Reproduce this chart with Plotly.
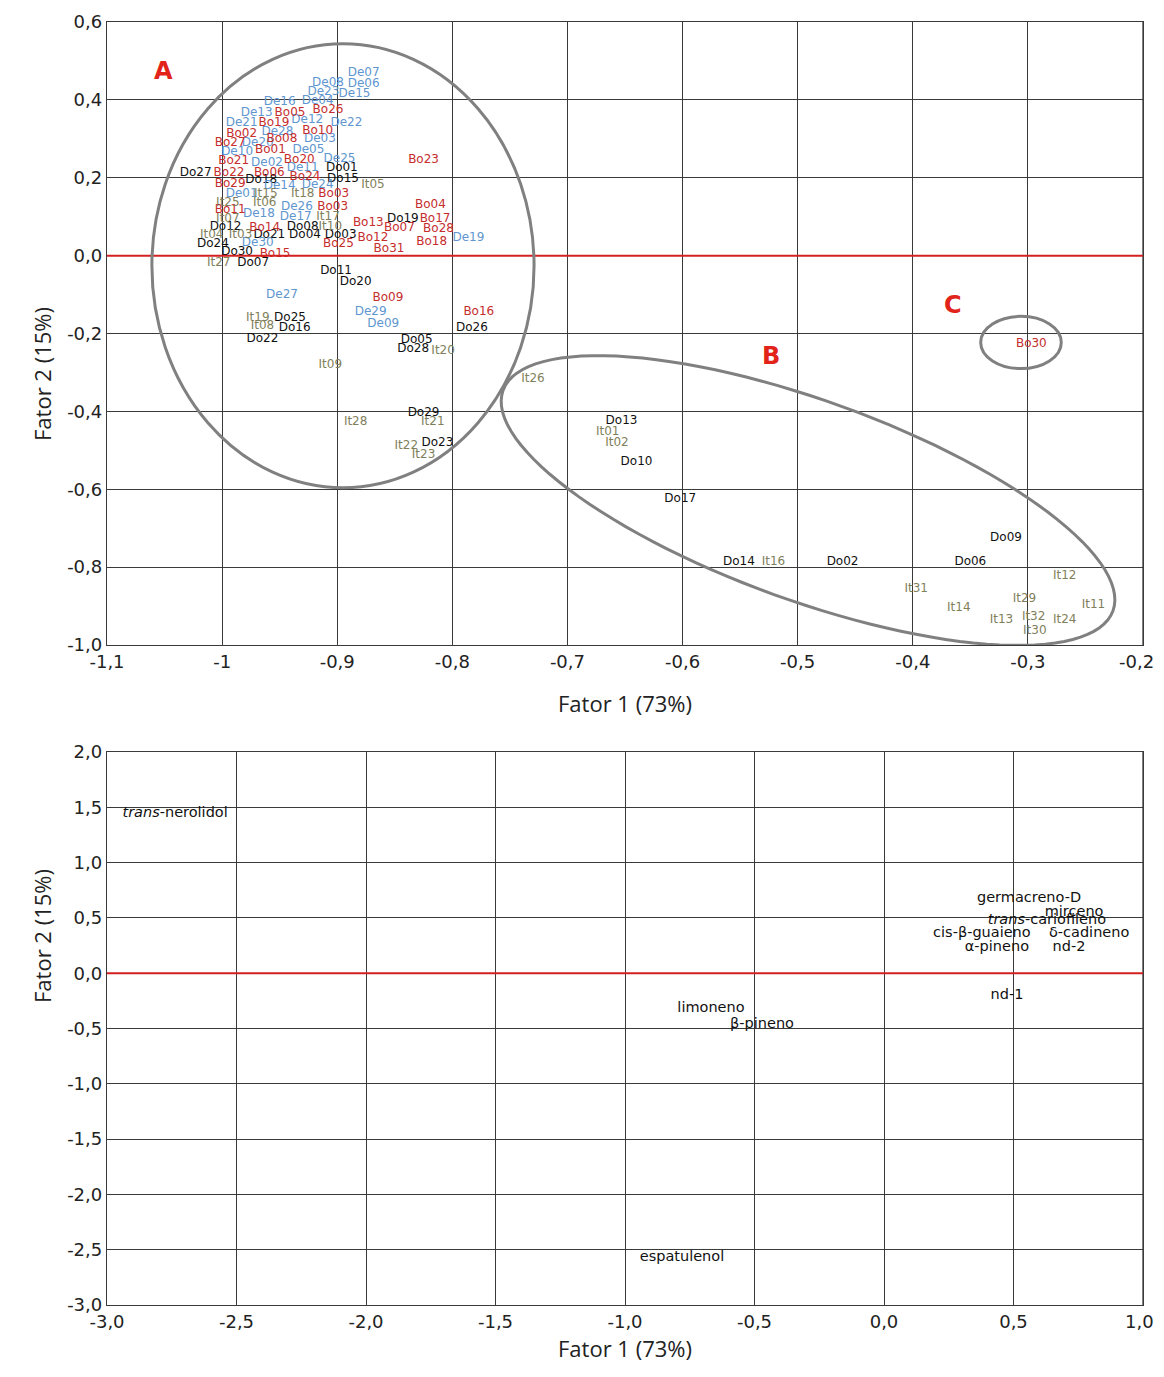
import numpy as np
import plotly.graph_objects as go

# ---------------- Data: top plot (sample scores) ----------------
do_names = ["Do01","Do02","Do03","Do04","Do05","Do06","Do07","Do08","Do09","Do10",
            "Do11","Do12","Do13","Do14","Do15","Do16","Do17","Do18","Do19","Do20",
            "Do21","Do22","Do23","Do24","Do25","Do26","Do27","Do28","Do29","Do30"]
do_x = [-0.896,-0.461,-0.897,-0.928,-0.831,-0.350,-0.973,-0.930,-0.319,-0.640,
        -0.901,-0.997,-0.653,-0.551,-0.895,-0.937,-0.602,-0.966,-0.843,-0.884,
        -0.959,-0.965,-0.813,-1.008,-0.941,-0.783,-1.023,-0.834,-0.825,-0.987]
do_y = [0.226,-0.788,0.054,0.054,-0.216,-0.788,-0.018,0.074,-0.724,-0.529,
        -0.039,0.074,-0.424,-0.788,0.198,-0.185,-0.624,0.195,0.095,-0.069,
        0.054,-0.213,-0.480,0.031,-0.159,-0.187,0.211,-0.241,-0.403,0.010]

de_names = ["De01","De02","De03","De04","De05","De06","De07","De08","De09","De10",
            "De11","De12","De13","De14","De15","De16","De17","De18","De19","De20",
            "De21","De22","De23","De24","De25","De26","De27","De28","De29","De30"]
de_x = [-0.983,-0.961,-0.915,-0.917,-0.925,-0.877,-0.877,-0.908,-0.860,-0.987,
        -0.930,-0.926,-0.970,-0.950,-0.885,-0.950,-0.936,-0.968,-0.786,-0.969,
        -0.983,-0.892,-0.912,-0.917,-0.898,-0.935,-0.948,-0.952,-0.871,-0.969]
de_y = [0.159,0.239,0.300,0.398,0.272,0.442,0.470,0.444,-0.175,0.267,
        0.226,0.349,0.367,0.180,0.416,0.395,0.100,0.108,0.044,0.288,
        0.341,0.341,0.421,0.182,0.249,0.126,-0.100,0.318,-0.144,0.033]

bo_names = ["Bo01","Bo02","Bo03","Bo03","Bo04","Bo05","Bo06","Bo07","Bo08","Bo09",
            "Bo10","Bo11","Bo12","Bo13","Bo14","Bo15","Bo16","Bo17","Bo18","Bo19",
            "Bo20","Bo21","Bo22","Bo23","Bo24","Bo25","Bo26","Bo27","Bo28","Bo29",
            "Bo30","Bo31"]
bo_x = [-0.958,-0.983,-0.903,-0.904,-0.819,-0.941,-0.959,-0.846,-0.948,-0.856,
        -0.917,-0.993,-0.869,-0.873,-0.963,-0.954,-0.777,-0.815,-0.818,-0.955,
        -0.933,-0.990,-0.994,-0.825,-0.928,-0.899,-0.908,-0.993,-0.812,-0.993,
        -0.297,-0.855]
bo_y = [0.270,0.313,0.159,0.126,0.131,0.367,0.213,0.072,0.300,-0.108,
        0.321,0.116,0.044,0.085,0.072,0.005,-0.146,0.095,0.036,0.341,
        0.246,0.244,0.211,0.246,0.203,0.031,0.375,0.288,0.069,0.185,
        -0.226,0.018]

it_names = ["It01","It02","It03","It04","It05","It06","It07","It08","It09","It10",
            "It11","It12","It13","It14","It15","It16","It17","It18","It19","It20",
            "It21","It22","It23","It24","It25","It26","It27","It28","It29","It30",
            "It31","It32"]
it_x = [-0.665,-0.657,-0.984,-1.009,-0.869,-0.963,-0.995,-0.965,-0.906,-0.906,
        -0.243,-0.268,-0.323,-0.360,-0.962,-0.521,-0.908,-0.930,-0.969,-0.808,
        -0.817,-0.840,-0.825,-0.268,-0.995,-0.730,-1.003,-0.884,-0.303,-0.294,
        -0.397,-0.295]
it_y = [-0.454,-0.480,0.054,0.054,0.182,0.134,0.095,-0.182,-0.280,0.074,
        -0.896,-0.822,-0.935,-0.906,0.159,-0.788,0.100,0.157,-0.159,-0.246,
        -0.426,-0.490,-0.513,-0.935,0.136,-0.318,-0.018,-0.426,-0.881,-0.963,
        -0.855,-0.929]

# ---------------- Data: bottom plot (loadings) ----------------
var_names = ["<i>trans</i>-nerolidol","germacreno-D","mirceno","<i>trans</i>-cariofileno",
             "cis-β-guaieno","δ-cadineno","α-pineno","nd-2","nd-1","limoneno",
             "β-pineno","espatulenol"]
var_x = [-2.737,0.560,0.734,0.629,0.378,0.792,0.436,0.714,0.475,-0.668,-0.471,-0.780]
var_y = [1.447,0.678,0.552,0.479,0.362,0.362,0.235,0.235,-0.199,-0.316,-0.461,-2.568]

# ---------------- Tick labels ----------------
top_xticks = [-1.1,-1.0,-0.9,-0.8,-0.7,-0.6,-0.5,-0.4,-0.3,-0.2]
top_xtext = ["-1,1","-1","-0,9","-0,8","-0,7","-0,6","-0,5","-0,4","-0,3","-0,2"]
top_yticks = [0.6,0.4,0.2,0.0,-0.2,-0.4,-0.6,-0.8,-1.0]
top_ytext = ["0,6","0,4","0,2","0,0","-0,2","-0,4","-0,6","-0,8","-1,0"]
bot_xticks = [-3.0,-2.5,-2.0,-1.5,-1.0,-0.5,0.0,0.5,1.0]
bot_xtext = ["-3,0","-2,5","-2,0","-1,5","-1,0","-0,5","0,0","0,5","1,0"]
bot_yticks = [2.0,1.5,1.0,0.5,0.0,-0.5,-1.0,-1.5,-2.0,-2.5,-3.0]
bot_ytext = ["2,0","1,5","1,0","0,5","0,0","-0,5","-1,0","-1,5","-2,0","-2,5","-3,0"]

# ---------------- Layout helpers (page has an 8px body margin) ----------------
OFF = 8
W, H = 1164 - 2*OFF, 1377 - 2*OFF
def fx(px):
    return (px - OFF) / W
def fy(py):
    return 1 - (py - OFF) / H

C_DO, C_DE, C_BO, C_IT = "#111111", "#5f96cf", "#c62d2d", "#7f7f5c"
LBL_FONT = "DejaVu Sans"
GRID = "#3a3a3a"
TICKF = dict(family="DejaVu Sans", size=18, color="#222222")

fig = go.Figure()

def add_group(names, xs, ys, color):
    fig.add_trace(go.Scatter(x=xs, y=ys, text=names, mode="text",
                             textposition="middle center",
                             textfont=dict(family=LBL_FONT, size=12, color=color),
                             cliponaxis=False, showlegend=False,
                             xaxis="x", yaxis="y"))

add_group(do_names, do_x, do_y, C_DO)
add_group(de_names, de_x, de_y, C_DE)
add_group(bo_names, bo_x, bo_y, C_BO)
add_group(it_names, it_x, it_y, C_IT)

fig.add_trace(go.Scatter(x=var_x, y=var_y, text=var_names, mode="text",
                         textposition="middle center",
                         textfont=dict(family=LBL_FONT, size=14.5, color="#111111"),
                         cliponaxis=False, showlegend=False,
                         xaxis="x2", yaxis="y2"))

axis_common = dict(showgrid=True, gridcolor=GRID, gridwidth=1.3, zeroline=False,
                   showline=True, linecolor=GRID, linewidth=1.3, mirror=True,
                   tickmode="array", ticks="", automargin=False,
                   tickfont=TICKF)

# the right-most x tick label would run past the page edge: draw it separately
fig.update_layout(
    width=W, height=H, margin=dict(l=0, r=0, t=0, b=0, autoexpand=False),
    paper_bgcolor="white", plot_bgcolor="white",
    xaxis=dict(domain=[fx(107), fx(1143)], range=[-1.1, -0.2],
               tickvals=top_xticks[:-1], ticktext=top_xtext[:-1], anchor="y", **axis_common),
    yaxis=dict(domain=[fy(645), fy(22)], range=[-1.0, 0.6],
               tickvals=top_yticks, ticktext=top_ytext, anchor="x", **axis_common),
    xaxis2=dict(domain=[fx(107), fx(1143)], range=[-3.0, 1.0],
                tickvals=bot_xticks[:-1], ticktext=bot_xtext[:-1], anchor="y2", **axis_common),
    yaxis2=dict(domain=[fy(1305), fy(752)], range=[-3.0, 2.0],
                tickvals=bot_yticks, ticktext=bot_ytext, anchor="x2", **axis_common),
)
# keep the last vertical gridline (tick list shortened above)
fig.add_shape(type="line", xref="x", yref="y domain", x0=top_xticks[-1], x1=top_xticks[-1],
              y0=0, y1=1, line=dict(color=GRID, width=1.3))
fig.add_shape(type="line", xref="x2", yref="y2 domain", x0=bot_xticks[-1], x1=bot_xticks[-1],
              y0=0, y1=1, line=dict(color=GRID, width=1.3))
fig.add_annotation(x=1.0, y=fy(645), xref="paper", yref="paper", text=top_xtext[-1],
                   xanchor="right", yanchor="top", yshift=-4, showarrow=False, font=TICKF)
fig.add_annotation(x=1.0, y=fy(1305), xref="paper", yref="paper", text=bot_xtext[-1],
                   xanchor="right", yanchor="top", yshift=-4, showarrow=False, font=TICKF)

# red zero lines
fig.add_shape(type="line", xref="x domain", yref="y", x0=0, x1=1, y0=0, y1=0,
              line=dict(color="#d42020", width=2))
fig.add_shape(type="line", xref="x2 domain", yref="y2", x0=0, x1=1, y0=0, y1=0,
              line=dict(color="#d42020", width=2))

ELL = dict(color="#808080", width=3)
# Ellipse A
fig.add_shape(type="circle", xref="x", yref="y", x0=-1.061, x1=-0.729,
              y0=-0.596, y1=0.544, line=ELL)
# Ellipse C
fig.add_shape(type="circle", xref="x", yref="y", x0=-0.341, x1=-0.271,
              y0=-0.290, y1=-0.156, line=ELL)
# Ellipse B (rotated) -- built in pixel-scaled space
cx, cy = -0.491, -0.629
a_px, b_px, theta = 324.0, 100.0, np.deg2rad(19.9)
sx, sy = 1150.0, 389.5
t = np.linspace(0, 2*np.pi, 121)
px = a_px*np.cos(t)*np.cos(theta) - b_px*np.sin(t)*np.sin(theta)
py = a_px*np.cos(t)*np.sin(theta) + b_px*np.sin(t)*np.cos(theta)
ex = cx + px/sx
ey = cy - py/sy
path = "M " + " L ".join(f"{xx:.5f},{yy:.5f}" for xx, yy in zip(ex, ey)) + " Z"
fig.add_shape(type="path", xref="x", yref="y", path=path, line=ELL)

# Group letters
for letter, lx, ly in [("A", -1.051, 0.475), ("B", -0.523, -0.257), ("C", -0.365, -0.128)]:
    fig.add_annotation(x=lx, y=ly, xref="x", yref="y", text=f"<b>{letter}</b>",
                       showarrow=False,
                       font=dict(family="DejaVu Sans", size=24, color="#e2231a"))

# Axis titles
TF = dict(family="Open Sans", size=22, color="#222222")
fig.add_annotation(x=fx(625), y=fy(703), xref="paper", yref="paper", text="Fator 1 (73%)",
                   showarrow=False, font=TF)
fig.add_annotation(x=fx(25), y=fy(305), xref="paper", yref="paper", text="Fator 2 (15%)",
                   showarrow=False, font=TF, textangle=-90)
fig.add_annotation(x=fx(625), y=fy(1365), xref="paper", yref="paper", text="Fator 1 (73%)",
                   showarrow=False, font=TF)
fig.add_annotation(x=fx(25), y=fy(1005), xref="paper", yref="paper", text="Fator 2 (15%)",
                   showarrow=False, font=TF, textangle=-90)

fig.write_html("out.html")
